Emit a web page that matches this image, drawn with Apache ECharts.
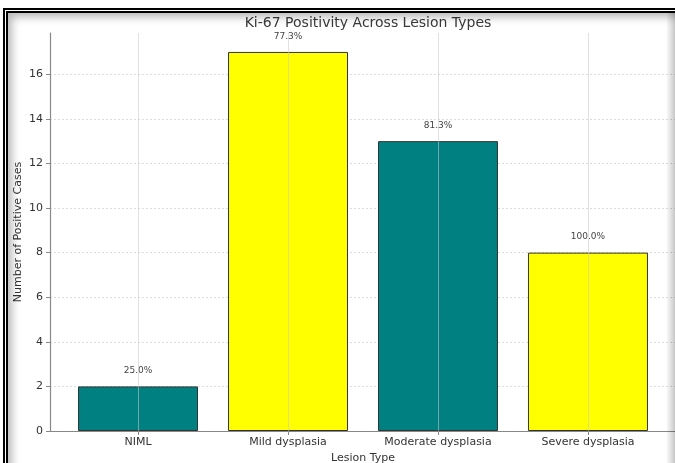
<!DOCTYPE html>
<html>
<head>
<meta charset="utf-8">
<script src="https://cdn.jsdelivr.net/npm/echarts@6/dist/echarts.min.js"></script>
<style>
  html, body { margin: 0; padding: 0; background: #fff; overflow: hidden; }
  #chart { position: absolute; left: 0; top: 0; width: 675px; height: 463px; }
  #frame {
    position: absolute; left: 3px; top: 8px; width: 720px; height: 520px;
    border-left: 5px double #000; border-top: 5px double #000;
    box-shadow: inset 8px 8px 8px -4px rgba(0,0,0,0.28);
    pointer-events: none;
  }
  #edge {
    position: absolute; right: 0; top: 13px; width: 9px; height: 450px;
    background: linear-gradient(to right, rgba(0,0,0,0), rgba(0,0,0,0.22));
    pointer-events: none;
  }
</style>
</head>
<body>
<div id="chart"></div>
<div id="frame"></div>
<div id="edge"></div>
<script>
// Lesion categories and Ki-67 positive case counts
const categories = ['NIML', 'Mild dysplasia', 'Moderate dysplasia', 'Severe dysplasia'];
const positiveCases = [2, 17, 13, 8];
const positivityPct = [25.0, 77.3, 81.3, 100.0];
const yTicks = [0, 2, 4, 6, 8, 10, 12, 14, 16];
const xTicks = [0, 1, 2, 3];

const barColors = ['#008080', '#FFFF00'];
const font = 'DejaVu Sans';

const chart = echarts.init(document.getElementById('chart'), null, { renderer: 'canvas' });

chart.setOption({
  animation: false,
  backgroundColor: '#fff',
  title: {
    text: 'Ki-67 Positivity Across Lesion Types',
    left: 363, textAlign: 'center', top: 11,
    textStyle: { fontFamily: font, fontSize: 14, fontWeight: 'normal', color: '#3a3a3a' }
  },
  grid: { left: 50, right: -1, top: 33, bottom: 32, containLabel: false, outerBoundsMode: 'none' },
  xAxis: {
    type: 'value',
    min: -0.587, max: 3.587,
    z: 3,
    name: 'Lesion Type',
    nameLocation: 'middle', nameGap: 22,
    nameTextStyle: { fontFamily: font, fontSize: 11, color: '#333' },
    axisLine: { show: true, onZero: false, lineStyle: { color: '#888', width: 1.2 } },
    axisTick: { show: true, customValues: xTicks, length: 4, lineStyle: { color: '#888' } },
    axisLabel: {
      customValues: xTicks, margin: 6,
      fontFamily: font, fontSize: 11, color: '#333',
      formatter: v => categories[Math.round(v)] || ''
    },
    splitLine: { show: true, lineStyle: { color: 'rgba(200,200,200,0.55)', width: 1 } }
  },
  yAxis: {
    type: 'value',
    min: 0, max: 17.85,
    name: 'Number of Positive Cases',
    nameLocation: 'middle', nameGap: 26, nameMoveOverlap: false,
    nameTextStyle: { fontFamily: font, fontSize: 11, color: '#333' },
    axisLine: { show: true, onZero: false, lineStyle: { color: '#888', width: 1.2 } },
    axisTick: { show: true, customValues: yTicks, length: 4, lineStyle: { color: '#888' } },
    axisLabel: { customValues: yTicks, margin: 7, fontFamily: font, fontSize: 11, color: '#333' },
    splitLine: { show: true, lineStyle: { color: '#dcdcdc', type: [2, 2], width: 1 } }
  },
  series: [{
    type: 'bar',
    barWidth: '80%',
    data: positiveCases.map((v, i) => ({
      value: [i, v],
      itemStyle: { color: barColors[i % 2] }
    })),
    itemStyle: { borderColor: '#333', borderWidth: 1 },
    label: {
      show: true, position: 'top', distance: 11,
      fontFamily: font, fontSize: 9, color: '#444',
      formatter: p => positivityPct[p.dataIndex].toFixed(1) + '%'
    }
  }]
});
</script>
</body>
</html>
